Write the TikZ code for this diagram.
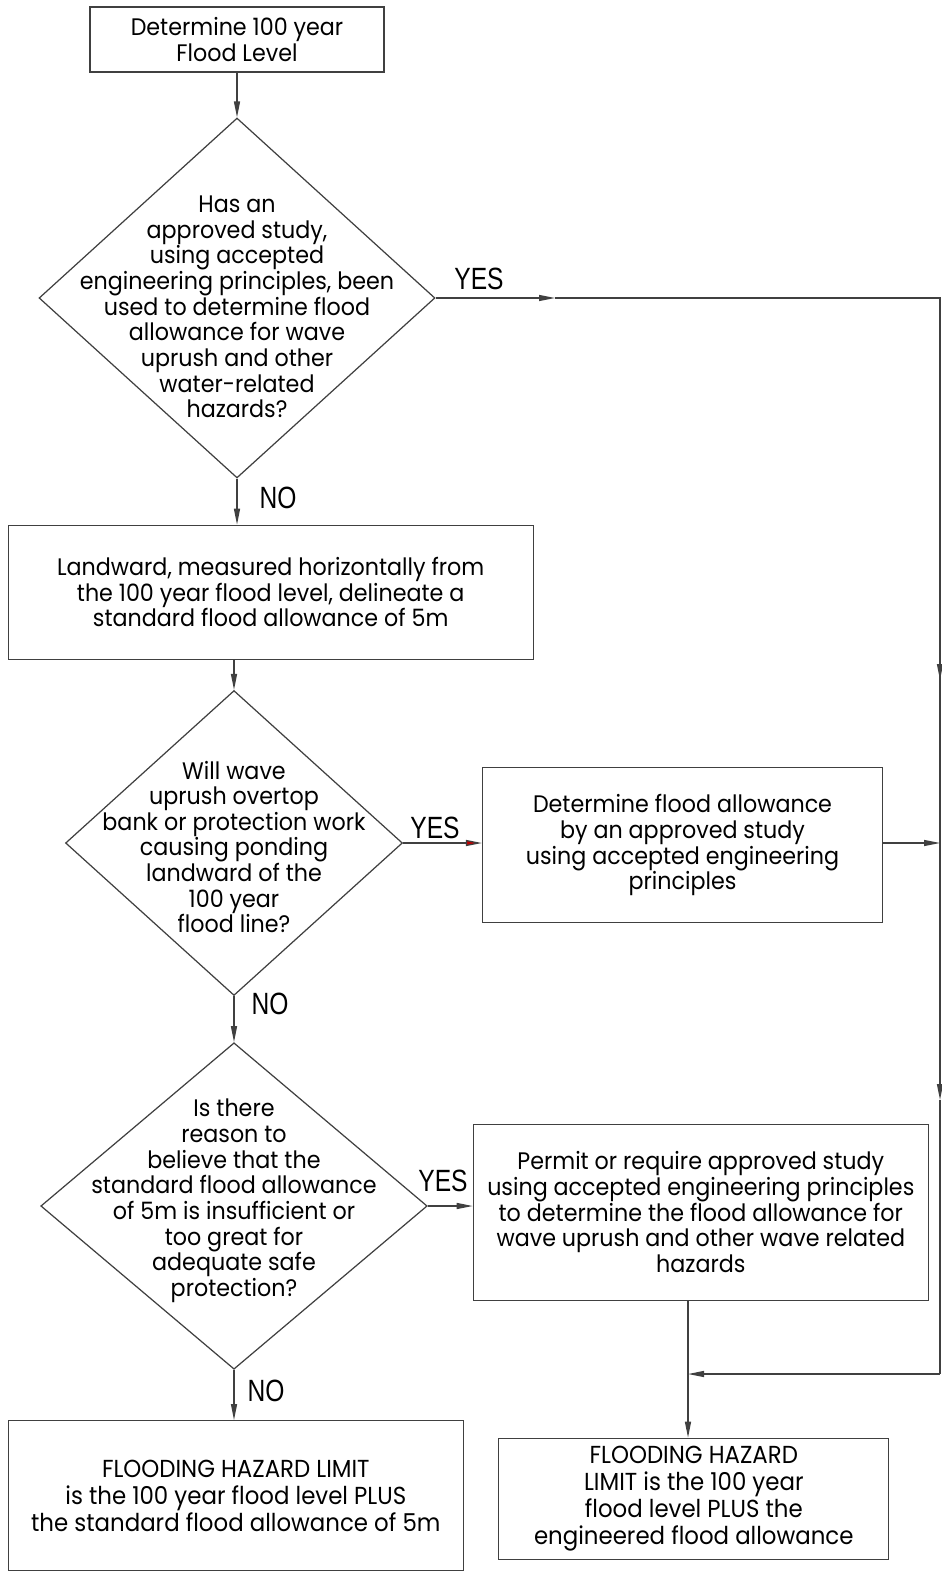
\documentclass[tikz,border=0pt]{standalone}
\usepackage{fontspec}
\setmainfont[FakeStretch=0.93]{Poppins}
\newfontfamily\labelfont[FakeStretch=0.8]{Liberation Sans}
\newfontfamily\narrowfont[FakeStretch=0.93]{Poppins}
\usetikzlibrary{shapes.geometric,arrows.meta}

\tikzset{
	box/.style={draw=black!75, line width=0.7pt, rectangle, inner sep=0pt, align=center,
		font=\fontsize{13.6pt}{14.6pt}\selectfont},
	decision/.style={draw=black!75, line width=0.7pt, diamond, inner sep=0pt},
	qtext/.style={align=center, inner sep=0pt, font=\fontsize{13.6pt}{14.6pt}\selectfont},
	limit/.style={box, font=\narrowfont\fontsize{14pt}{15.3pt}\selectfont},
	answer/.style={inner sep=0pt, font=\labelfont\fontsize{17.5pt}{18pt}\selectfont},
	line/.style={draw=black!75, line width=0.7pt},
	flow/.style={line, -{Triangle[length=0.32cm,width=0.12cm]}},
	redflow/.style={line, -{Triangle[length=0.32cm,width=0.12cm,fill=red!75!black]}}
}

\begin{document}
\begin{tikzpicture}[x=0.02cm, y=-0.02cm]
	\useasboundingbox (0,0) rectangle (942,1574);

	% boxes
	\node[box, minimum width=5.88cm, minimum height=1.3cm] (start) at (237,39.5)
		{Determine 100 year\\Flood Level};
	\node[box, minimum width=10.5cm, minimum height=2.68cm] (land) at (270.7,592.3)
		{Landward, measured horizontally from\\the 100 year flood level, delineate a\\standard flood allowance of 5m};
	\node[box, minimum width=8.0cm, minimum height=3.1cm] (study) at (682.5,845.2)
		{Determine flood allowance\\by an approved study\\using accepted engineering\\principles};
	\node[box, minimum width=9.1cm, minimum height=3.52cm] (permit) at (700.8,1212.2)
		{Permit or require approved study\\using accepted engineering principles\\to determine the flood allowance for\\wave uprush and other wave related\\hazards};
	\node[limit, minimum width=9.1cm, minimum height=3.0cm] (stdlimit) at (235.8,1495.7)
		{FLOODING HAZARD LIMIT\\is the 100 year flood level PLUS\\the standard flood allowance of 5m};
	\node[limit, minimum width=7.8cm, minimum height=2.42cm] (englimit) at (693.8,1498.8)
		{FLOODING HAZARD\\LIMIT is the 100 year\\flood level PLUS the\\engineered flood allowance};

	% decisions
	\node[decision, minimum width=7.92cm, minimum height=7.2cm] (q1) at (237,298) {};
	\node[qtext, yshift=-0.18cm] (q1text) at (q1)
		{Has an\\approved study,\\using accepted\\engineering principles, been\\used to determine flood\\allowance for wave\\uprush and other\\water-related\\hazards?};
	\node[decision, minimum width=6.74cm, minimum height=6.1cm] (q2) at (234,843) {};
	\node[qtext, yshift=-0.08cm] (q2text) at (q2)
		{Will wave\\uprush overtop\\bank or protection work\\causing ponding\\landward of the\\100 year\\flood line?};
	\node[decision, minimum width=7.73cm, minimum height=6.53cm] (q3) at (234,1206) {};
	\node[qtext, yshift=0.1cm] (q3text) at (q3)
		{Is there\\reason to\\believe that the\\standard flood allowance\\of 5m is insufficient or\\too great for\\adequate safe\\protection?};

	% answers
	\node[answer] (yes1) at (479,279) {YES};
	\node[answer] (no1) at (278,498) {NO};
	\node[answer] (yes2) at (435,828) {YES};
	\node[answer] (no2) at (270,1004) {NO};
	\node[answer] (yes3) at (443,1181) {YES};
	\node[answer] (no3) at (266,1391) {NO};

	% right hand return line
	\coordinate (yesmid) at (555,298);
	\coordinate (topright) at (940,298);
	\coordinate (rightmid1) at (940,680);
	\coordinate (rightmid2) at (940,1100);
	\coordinate (botright) at (940,1374);
	\coordinate (join) at (688,1374);

	% connectors
	\draw[flow] (start) -- (q1.north);
	\draw[flow] (q1.south) -- (q1.south |- land.north);
	\draw[flow] (q2.north |- land.south) -- (q2.north);
	\draw[flow] (q2.south) -- (q3.north);
	\draw[flow] (q3.south) -- (q3.south |- stdlimit.north);
	\draw[redflow] (q2.east) -- (q2.east -| study.west);
	\draw[flow] (q3.east) -- (q3.east -| permit.west);
	\draw[flow] (q1.east) -- (yesmid);
	\draw[line] (yesmid) -- (topright) -- (rightmid1);
	\draw[flow] (topright) -- (rightmid1);
	\draw[flow] (rightmid1) -- (rightmid2);
	\draw[line] (rightmid2) -- (botright);
	\draw[flow] (botright) -- (join);
	\draw[flow] (study.east |- q2.east) -- (q2.east -| topright);
	\draw[flow] (join |- permit.south) -- (join |- englimit.north);
\end{tikzpicture}
\end{document}
